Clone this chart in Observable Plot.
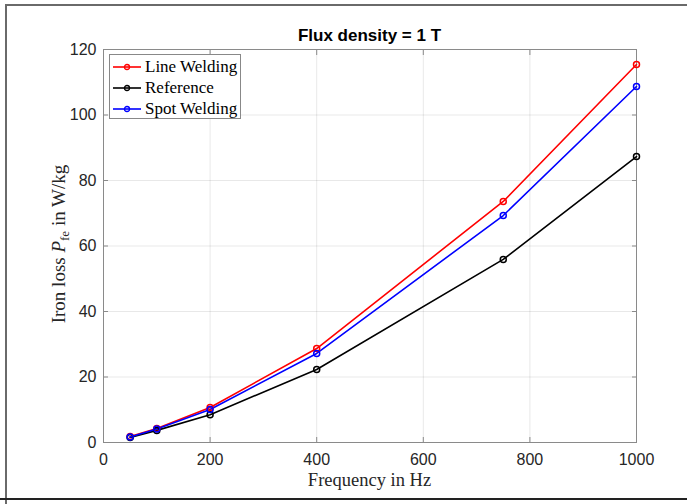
<!DOCTYPE html>
<html>
<head>
<meta charset="utf-8">
<script src="https://cdn.jsdelivr.net/npm/d3@7"></script>
<script src="https://cdn.jsdelivr.net/npm/@observablehq/plot@0.6"></script>
<style>
  html, body { margin: 0; padding: 0; background: #fff; }
  #wrap { position: relative; width: 687px; height: 504px; overflow: hidden; }
  #wrap svg { position: absolute; left: 0; top: 0; }
  .bTop { position: absolute; left: 5px; top: 4px; width: 690px; height: 2px; background: #6a6a6a; }
  .bLeft { position: absolute; left: 5px; top: 4px; width: 2px; height: 500px; background: #6a6a6a; }
  .bBot { position: absolute; left: 0; top: 498px; width: 690px; height: 2px; background: #222; }
  #legend { position: absolute; left: 109px; top: 54px; width: 132px; height: 65px; border: 1px solid #888; background: #fff;
            font-family: "Liberation Serif", "DejaVu Serif", serif; font-size: 17px; color: #000; box-sizing: border-box; padding-top: 1px; }
  #legend .row { display: flex; align-items: center; height: 21px; }
  #legend svg { position: static; margin: 0 3px 0 2px; }
</style>
</head>
<body>
<div id="wrap"></div>
<script>
const freq = [50, 100, 200, 400, 750, 1000];
const lineWelding = [1.8, 4.3, 10.7, 28.7, 73.6, 115.4];
const reference = [1.5, 3.7, 8.5, 22.3, 55.9, 87.3];
const spotWelding = [1.7, 4.1, 10.1, 27.2, 69.3, 108.7];
const seriesNames = ["Line Welding", "Reference", "Spot Welding"];
const seriesColors = ["#ff0000", "#000000", "#0000ff"];
const xTicks = [0, 200, 400, 600, 800, 1000];
const yTicks = [0, 20, 40, 60, 80, 100, 120];

const seriesValues = [lineWelding, reference, spotWelding];
const data = seriesNames.flatMap((name, i) => freq.map((f, j) => ({series: name, f, v: seriesValues[i][j]})));

const axisColor = "#8a8a8a";
const textColor = "#262626";
const fmt = d3.format("d");

const plot = Plot.plot({
  width: 687,
  height: 504,
  marginLeft: 103,
  marginRight: 51,
  marginTop: 49,
  marginBottom: 62,
  style: {fontFamily: "'Liberation Sans', Arial, sans-serif", fontSize: "16px", color: textColor, background: "transparent"},
  x: {domain: [0, 1000]},
  y: {domain: [0, 120]},
  color: {domain: seriesNames, range: seriesColors},
  marks: [
    Plot.gridX(xTicks, {stroke: "#000", strokeOpacity: 0.09}),
    Plot.gridY(yTicks, {stroke: "#000", strokeOpacity: 0.09}),
    Plot.axisX(xTicks, {anchor: "bottom", tickSize: -5, tickPadding: 16, tickFormat: fmt, stroke: axisColor, fill: textColor, label: null}),
    Plot.axisX(xTicks, {anchor: "top", tickSize: -5, tickFormat: () => "", stroke: axisColor, label: null}),
    Plot.axisY(yTicks, {anchor: "left", tickSize: -5, tickPadding: 12, tickFormat: fmt, stroke: axisColor, fill: textColor, label: null}),
    Plot.axisY(yTicks, {anchor: "right", tickSize: -5, tickFormat: () => "", stroke: axisColor, label: null}),
    Plot.frame({stroke: axisColor}),
    Plot.line(data, {x: "f", y: "v", z: "series", stroke: "series", strokeWidth: 1.6}),
    Plot.dot(data, {x: "f", y: "v", stroke: "series", r: 3, strokeWidth: 1.5, fill: "none"})
  ]
});

const wrap = document.getElementById("wrap");
wrap.appendChild(plot);

const svg = d3.select(plot);
// title
svg.append("text").attr("x", 369.5).attr("y", 41).attr("text-anchor", "middle")
  .attr("font-family", "'Liberation Sans', Arial, sans-serif").attr("font-weight", "bold").attr("font-size", 17)
  .attr("fill", "#000").text("Flux density = 1 T");
// x label
svg.append("text").attr("x", 369.5).attr("y", 486).attr("text-anchor", "middle")
  .attr("font-family", "'Liberation Serif', serif").attr("font-size", 18.5)
  .attr("fill", textColor).text("Frequency in Hz");
// y label
const yl = svg.append("text").attr("transform", "translate(65,244) rotate(-90)").attr("text-anchor", "middle")
  .attr("font-family", "'Liberation Serif', serif").attr("font-size", 19).attr("fill", textColor);
yl.append("tspan").text("Iron loss ");
yl.append("tspan").attr("font-style", "italic").text("P");
yl.append("tspan").attr("font-size", 13).attr("dy", 4).text("fe");
yl.append("tspan").attr("dy", -4).text(" in W/kg");

// legend
const leg = document.createElement("div");
leg.id = "legend";
seriesNames.forEach((name, i) => {
  const row = document.createElement("div");
  row.className = "row";
  row.innerHTML = `<svg width="30" height="10"><line x1="1" x2="29" y1="5" y2="5" stroke="${seriesColors[i]}" stroke-width="1.6"/><circle cx="15" cy="5" r="2.5" fill="none" stroke="${seriesColors[i]}" stroke-width="1.3"/></svg><span>${name}</span>`;
  leg.appendChild(row);
});
wrap.appendChild(leg);

["bTop", "bLeft", "bBot"].forEach(c => { const d = document.createElement("div"); d.className = c; wrap.appendChild(d); });
</script>
</body>
</html>
